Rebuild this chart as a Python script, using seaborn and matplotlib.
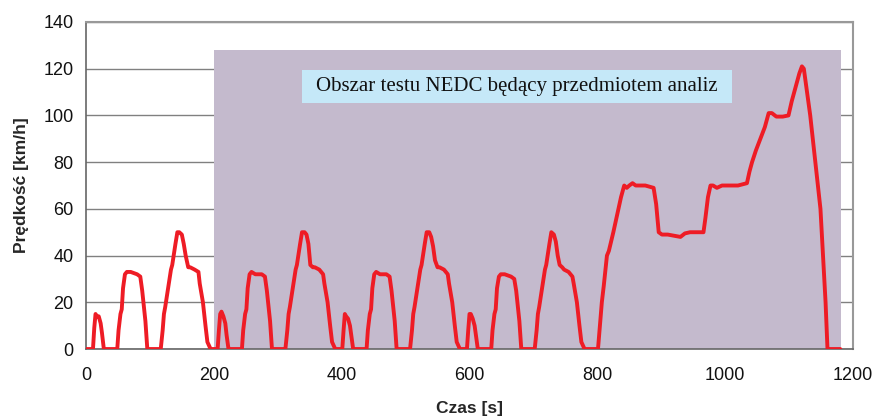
import numpy as np
import pandas as pd
import matplotlib
matplotlib.use("Agg")
import matplotlib.pyplot as plt
from matplotlib.patches import Rectangle
import seaborn as sns

# Przebieg predkosci testu NEDC (punkty)
czas = [
    # ECE 1
    0, 11, 13, 15, 17, 20, 23, 25, 28, 49, 51, 54, 56, 58, 61, 64, 70, 80, 85, 88, 93, 96,
    117, 120, 122, 124, 128, 133, 135, 140, 143, 146, 150, 153, 156, 160, 163, 170, 176, 178, 183, 187, 190, 195,
    # ECE 2
    206, 208, 210, 212, 215, 218, 220, 223, 244, 246, 249, 251, 253, 256, 259, 265, 275, 280, 283, 288, 291,
    312, 315, 317, 319, 323, 328, 330, 335, 338, 342, 345, 348, 351, 355, 358, 365, 371, 373, 378, 382, 385, 390,
    # ECE 3
    401, 403, 405, 407, 410, 413, 415, 418, 439, 441, 444, 446, 448, 451, 454, 460, 470, 475, 478, 483, 486,
    507, 510, 512, 514, 518, 523, 525, 530, 533, 537, 540, 543, 546, 550, 553, 560, 566, 568, 573, 577, 580, 585,
    # ECE 4
    596, 598, 600, 602, 605, 608, 610, 613, 634, 636, 639, 641, 643, 646, 649, 655, 665, 670, 673, 678, 681,
    702, 705, 707, 709, 713, 718, 720, 725, 728, 732, 735, 738, 741, 745, 748, 755, 761, 763, 768, 772, 775, 780,
    # EUDC
    801, 804, 807, 810, 815, 818, 825, 829, 833, 837, 842, 846, 850, 855, 860, 866, 875, 888, 892, 896, 901,
    910, 920, 930, 937, 945, 966, 969, 973, 977, 981, 987, 995, 1005, 1020, 1034, 1038, 1042, 1048, 1055, 1062,
    1068, 1073, 1080, 1090, 1099, 1104, 1110, 1116, 1120, 1123, 1127, 1133, 1137, 1141, 1145, 1149, 1153, 1157,
    1160, 1180,
]
predkosc = [
    # ECE 1
    0, 0, 9, 15, 14, 14, 11, 7, 0, 0, 8, 15, 17, 26, 32, 33, 33, 32, 31, 25, 12, 0,
    0, 8, 15, 18, 25, 34, 36, 45, 50, 50, 49, 45, 40, 35, 35, 34, 33, 28, 20, 10, 3, 0,
    # ECE 2
    0, 8, 15, 16, 14, 11, 6, 0, 0, 8, 15, 17, 26, 32, 33, 32, 32, 31, 25, 12, 0,
    0, 8, 15, 18, 25, 34, 36, 45, 50, 50, 49, 45, 36, 35, 35, 34, 32, 28, 20, 10, 3, 0,
    # ECE 3
    0, 8, 15, 14, 13, 10, 6, 0, 0, 8, 15, 17, 26, 32, 33, 32, 32, 31, 25, 12, 0,
    0, 8, 15, 18, 25, 34, 36, 45, 50, 50, 48, 44, 38, 35, 35, 34, 32, 28, 20, 10, 3, 0,
    # ECE 4
    0, 8, 15, 15, 13, 10, 6, 0, 0, 8, 15, 17, 26, 31, 32, 32, 31, 30, 25, 12, 0,
    0, 8, 15, 18, 25, 34, 36, 45, 50, 49, 46, 40, 36, 35, 34, 33, 31, 28, 20, 10, 3, 0,
    # EUDC
    0, 10, 20, 27, 40, 42, 50, 55, 60, 65, 70, 69, 70, 71, 70, 70, 70, 69, 62, 50, 49,
    49, 48.5, 48, 49.5, 50, 50, 56, 65, 70, 70, 69, 70, 70, 70, 71, 76, 80, 85, 90, 95,
    101, 101, 99.5, 99.5, 100, 106, 112, 118, 121, 120, 112, 100, 90, 80, 70, 60, 40, 20,
    0, 0,
]
yticks = [0, 20, 40, 60, 80, 100, 120, 140]
xticks = [0, 200, 400, 600, 800, 1000, 1200]

df = pd.DataFrame({"czas": czas, "predkosc": predkosc})

sns.set_style("white")
plt.rcParams["font.family"] = ["Liberation Sans", "DejaVu Sans"]

fig = plt.figure(figsize=(8.77, 4.19), dpi=100)
ax = fig.add_axes([0.098, 0.167, 0.8747, 0.7805])

# obszar analizy
ax.add_patch(Rectangle((200, 0), 981, 128, facecolor="#c4bacd", edgecolor="none", zorder=1))
ax.add_patch(Rectangle((338, 105.3), 673, 14.1, facecolor="#c5e8f8", edgecolor="none", zorder=2))
ax.text(674, 112.5, "Obszar testu NEDC będący przedmiotem analiz", ha="center", va="center",
        fontsize=15, family="Liberation Serif", color="#111111", zorder=3)

sns.lineplot(x="czas", y="predkosc", data=df, color="#ee1c25", linewidth=2.8, ax=ax, zorder=4)

ax.set_xlim(0, 1200)
ax.set_ylim(0, 140)
ax.set_xticks(xticks)
ax.set_yticks(yticks)
ax.yaxis.grid(True, color="#808080", linewidth=1.0, zorder=0)
ax.set_axisbelow(True)
ax.tick_params(axis="both", direction="out", length=5, width=1, color="#555555",
               labelsize=13, pad=4, labelcolor="#111111")
ax.tick_params(axis="x", pad=8)
for s in ["left", "bottom"]:
    ax.spines[s].set_color("#666666")
    ax.spines[s].set_linewidth(1.2)
for s in ["top", "right"]:
    ax.spines[s].set_color("#999999")
    ax.spines[s].set_linewidth(1.5)

ax.set_xlabel("Czas [s]", fontsize=12.5, fontweight="bold", labelpad=12)
ax.set_ylabel("Prędkość [km/h]", fontsize=12.5, fontweight="bold", labelpad=10)

fig.savefig("out.png", dpi=100)
